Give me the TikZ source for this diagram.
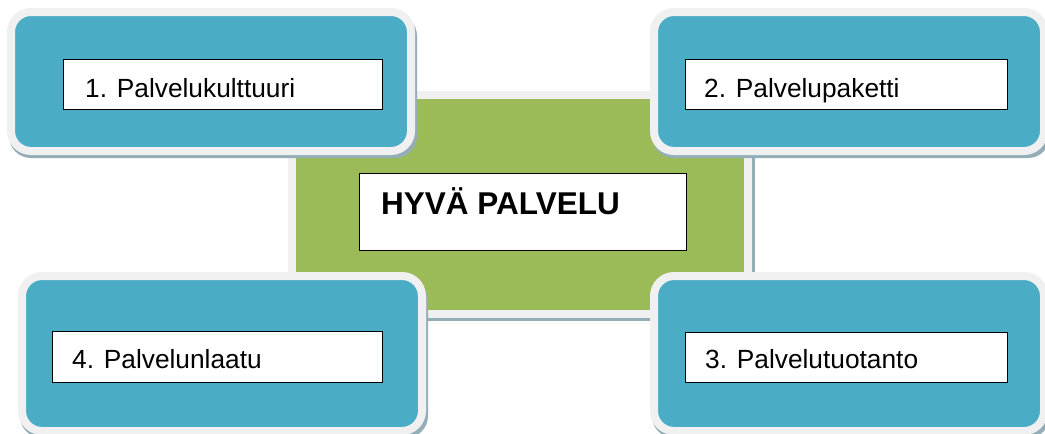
\documentclass[tikz,border=0pt]{standalone}
\usepackage{fontspec}
\setmainfont{Liberation Sans}
\definecolor{tealbox}{HTML}{4BACC6}
\definecolor{greenbox}{HTML}{9BBB59}
\definecolor{rimgray}{HTML}{F0F0F0}
\definecolor{shadowc}{HTML}{93AEB6}
\begin{document}
\begin{tikzpicture}[x=1pt,y=-1pt,
  shad/.style={fill=shadowc, rounded corners=22pt},
  bluebox/.style={fill=tealbox, draw=rimgray, line width=8pt, rounded corners=20pt},
  txtbox/.style={draw=black, fill=white, line width=1.3pt},
  lbl/.style={anchor=base west, inner sep=0pt, font=\fontsize{26.3}{30}\selectfont},
  title/.style={anchor=base west, inner sep=0pt, font=\fontsize{31.5}{36}\selectfont\bfseries}]
\useasboundingbox (0,0) rectangle (1045,434);
% centre block
\fill[shadowc] (292,97) rectangle (755,321);
\draw[fill=greenbox, draw=rimgray, line width=8pt] (292,95) rectangle (748,314);
\node[txtbox, minimum width=327pt, minimum height=77pt, anchor=north west, inner sep=0pt] (c) at (359,173) {};
\node[title] (ct) at (381,214) {HYVÄ PALVELU};
% top left
\fill[shad] (9,14) rectangle (417,158);
\draw[bluebox] (11,12) rectangle (411,151);
\node[txtbox, minimum width=319pt, minimum height=50pt, anchor=north west, inner sep=0pt] (b1) at (63,59) {};
\node[lbl] (t1) at (85,97) {1. Palvelukulttuuri};
% top right
\fill[shad] (652,14) rectangle (1050,158);
\draw[bluebox] (654,12) rectangle (1044,151);
\node[txtbox, minimum width=322pt, minimum height=50pt, anchor=north west, inner sep=0pt] (b2) at (685,59) {};
\node[lbl] (t2) at (704,97) {2. Palvelupaketti};
% bottom left
\fill[shad] (20,278) rectangle (428,438);
\draw[bluebox] (22,276) rectangle (422,431);
\node[txtbox, minimum width=330pt, minimum height=51pt, anchor=north west, inner sep=0pt] (b4) at (52,331) {};
\node[lbl] (t4) at (72,368) {4. Palvelunlaatu};
% bottom right
\fill[shad] (652,278) rectangle (1050,438);
\draw[bluebox] (654,276) rectangle (1044,431);
\node[txtbox, minimum width=322pt, minimum height=50pt, anchor=north west, inner sep=0pt] (b3) at (685,332) {};
\node[lbl] (t3) at (705,368) {3. Palvelutuotanto};
\end{tikzpicture}
\end{document}
